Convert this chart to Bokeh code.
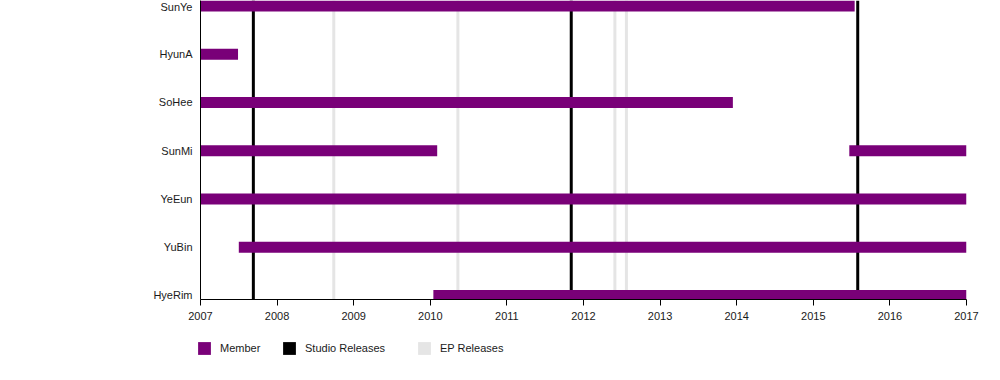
from bokeh.plotting import figure
from bokeh.layouts import column
from bokeh.models import (ColumnDataSource, Range1d, FixedTicker, Legend, LegendItem)
from bokeh.embed import file_html
from bokeh.resources import INLINE

# ---- data ----
members = ["SunYe", "HyunA", "SoHee", "SunMi", "YeEun", "YuBin", "HyeRim"]  # top to bottom
bar_member = ["SunYe", "HyunA", "SoHee", "SunMi", "SunMi", "YeEun", "YuBin", "HyeRim"]
bar_start = [2007.0, 2007.0, 2007.0, 2007.0, 2015.47, 2007.0, 2007.50, 2010.04]
bar_end = [2015.54, 2007.49, 2013.95, 2010.09, 2017.0, 2017.0, 2017.0, 2017.0]
studio_releases = [2007.69, 2011.84, 2015.58]
ep_releases = [2008.74, 2010.36, 2012.41, 2012.56]
year_ticks = list(range(2007, 2018))
legend_labels = ["Member", "Studio Releases", "EP Releases"]

# ---- styles ----
PURPLE = "#790078"
BLACK = "#000000"
GREY = "#e5e5e5"
FONT = "Liberation Sans"
TXT = "#1a1a1a"
W = 992

n = len(members)
ypos = {m: n - 1 - i for i, m in enumerate(members)}
y_lo, y_hi = -0.083, 6.114

p = figure(width=W, height=330, output_backend="svg", toolbar_location=None,
           x_range=Range1d(2007, 2017), y_range=Range1d(y_lo, y_hi),
           min_border_left=200, min_border_right=26, min_border_top=0,
           min_border_bottom=31)
p.outline_line_color = None
p.xgrid.visible = False
p.ygrid.visible = False

# release lines
p.segment(x0=studio_releases, x1=studio_releases,
          y0=[y_lo] * len(studio_releases), y1=[y_hi] * len(studio_releases),
          line_color=BLACK, line_width=3)
p.segment(x0=ep_releases, x1=ep_releases,
          y0=[y_lo] * len(ep_releases), y1=[y_hi] * len(ep_releases),
          line_color=GREY, line_width=3)

src = ColumnDataSource(dict(y=[ypos[m] for m in bar_member], left=bar_start, right=bar_end))
p.hbar(y="y", left="left", right="right", height=0.228, source=src,
       fill_color=PURPLE, line_color=None)

# axes
xa = p.xaxis[0]
xa.ticker = FixedTicker(ticks=year_ticks)
xa.minor_tick_line_color = None
xa.major_tick_out = 6
xa.major_tick_in = 0
xa.axis_line_color = BLACK
xa.major_tick_line_color = BLACK
xa.major_label_standoff = 6
xa.major_label_text_font = FONT
xa.major_label_text_font_size = "11px"
xa.major_label_text_color = TXT

ya = p.yaxis[0]
ya.ticker = FixedTicker(ticks=list(range(n)))
ya.major_label_overrides = {ypos[m]: m for m in members}
ya.minor_tick_line_color = None
ya.major_tick_out = 0
ya.major_tick_in = 0
ya.axis_line_color = BLACK
ya.major_label_standoff = 8
ya.major_label_text_font = FONT
ya.major_label_text_font_size = "11px"
ya.major_label_text_color = TXT

# ---- legend strip ----
lf = figure(width=W, height=40, output_backend="svg", toolbar_location=None,
            x_range=Range1d(0, 1), y_range=Range1d(0, 1),
            min_border_left=0, min_border_right=0, min_border_top=0, min_border_bottom=0)
lf.axis.visible = False
lf.grid.visible = False
lf.outline_line_color = None

aligned = True
try:
    p.frame_align = False
    lf.frame_align = False
    aligned = False
except Exception:
    aligned = True

legend_colors = [PURPLE, BLACK, GREY]
legend_x = [196, 281, 416]
off = -200 if aligned else 0
for lab, col, lx in zip(legend_labels, legend_colors, legend_x):
    r = lf.hbar(y="y", left="left", right="right", height=0.2,
                source=ColumnDataSource(dict(y=[-10], left=[-10], right=[-9])),
                fill_color=col, line_color=None)
    lg = Legend(items=[LegendItem(label=lab, renderers=[r])], location=(lx + off, 14),
                orientation="horizontal", padding=0, margin=0, spacing=0,
                glyph_width=16, glyph_height=16, label_height=16, label_standoff=8,
                border_line_color=None, background_fill_alpha=0,
                label_text_font=FONT, label_text_font_size="11px",
                label_text_color=TXT)
    lf.add_layout(lg)

open("out.html", "w").write(file_html(column(p, lf, spacing=0), INLINE))
